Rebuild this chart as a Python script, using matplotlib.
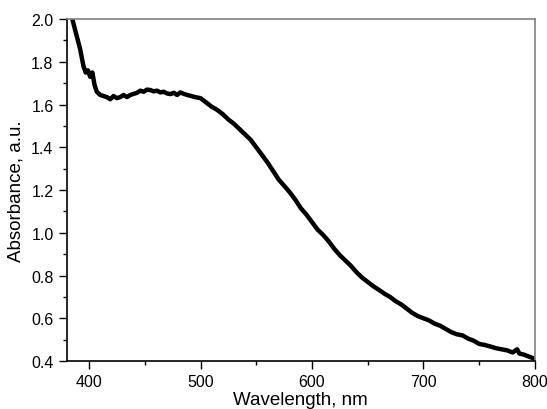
import matplotlib
matplotlib.use("Agg")
import matplotlib.pyplot as plt
from matplotlib.ticker import MultipleLocator

plt.rcParams['font.family'] = ['Liberation Sans', 'DejaVu Sans']

wavelength = [385, 388, 390, 392, 395, 397, 399, 401, 403, 405, 407, 410, 413, 416, 419,
              422, 425, 428, 431, 434, 437, 440, 443, 446, 449, 452, 455, 458, 461, 464,
              467, 470, 473, 476, 479, 482, 485, 488, 491, 495, 500, 505, 510, 515, 520,
              525, 530, 535, 540, 545, 550, 555, 560, 565, 570, 575, 580, 585, 590, 595,
              600, 605, 610, 615, 620, 625, 630, 635, 640, 645, 650, 655, 660, 665, 670,
              675, 680, 685, 690, 695, 700, 705, 710, 715, 720, 725, 730, 735, 740, 745,
              750, 755, 760, 765, 770, 775, 780, 784, 786, 790, 795, 800]
absorbance = [2.00, 1.94, 1.90, 1.86, 1.78, 1.75, 1.76, 1.73, 1.75, 1.69, 1.66, 1.645, 1.64, 1.635, 1.625,
              1.64, 1.63, 1.635, 1.645, 1.635, 1.645, 1.65, 1.655, 1.665, 1.66, 1.67, 1.668, 1.662, 1.665, 1.657,
              1.66, 1.652, 1.649, 1.655, 1.645, 1.657, 1.65, 1.645, 1.641, 1.635, 1.63, 1.61, 1.59, 1.575, 1.555,
              1.53, 1.51, 1.485, 1.46, 1.435, 1.40, 1.365, 1.33, 1.29, 1.25, 1.22, 1.19, 1.155, 1.115, 1.085,
              1.05, 1.015, 0.99, 0.96, 0.925, 0.895, 0.87, 0.845, 0.815, 0.79, 0.77, 0.75, 0.733, 0.715, 0.70,
              0.68, 0.665, 0.645, 0.625, 0.61, 0.60, 0.59, 0.575, 0.565, 0.55, 0.535, 0.525, 0.52, 0.505, 0.495,
              0.48, 0.475, 0.468, 0.46, 0.455, 0.45, 0.44, 0.455, 0.435, 0.43, 0.42, 0.41]

fig = plt.figure(figsize=(5.47, 4.10), dpi=100)
ax = fig.add_axes([0.122, 0.117, 0.856, 0.834])
ax.plot(wavelength, absorbance, color='black', lw=3.2, solid_joinstyle='round', solid_capstyle='round')

ax.set_xlim(380, 800)
ax.set_ylim(0.4, 2.0)
ax.xaxis.set_major_locator(MultipleLocator(100))
ax.xaxis.set_minor_locator(MultipleLocator(50))
ax.yaxis.set_major_locator(MultipleLocator(0.2))
ax.yaxis.set_minor_locator(MultipleLocator(0.1))
ax.yaxis.set_major_formatter(matplotlib.ticker.FormatStrFormatter('%.1f'))

ax.tick_params(which='both', direction='out', top=False, right=False, labelsize=11.5, colors='black')
ax.tick_params(which='major', length=6, width=1)
ax.tick_params(which='minor', length=3, width=1)
for s in ['top', 'right']:
    ax.spines[s].set_color('#808080')
    ax.spines[s].set_linewidth(1.2)
for s in ['left', 'bottom']:
    ax.spines[s].set_linewidth(1.2)

ax.set_xlabel('Wavelength, nm', fontsize=13.5, labelpad=1)
ax.set_ylabel('Absorbance, a.u.', fontsize=13.5, labelpad=5)

fig.savefig('out.png', dpi=100)
